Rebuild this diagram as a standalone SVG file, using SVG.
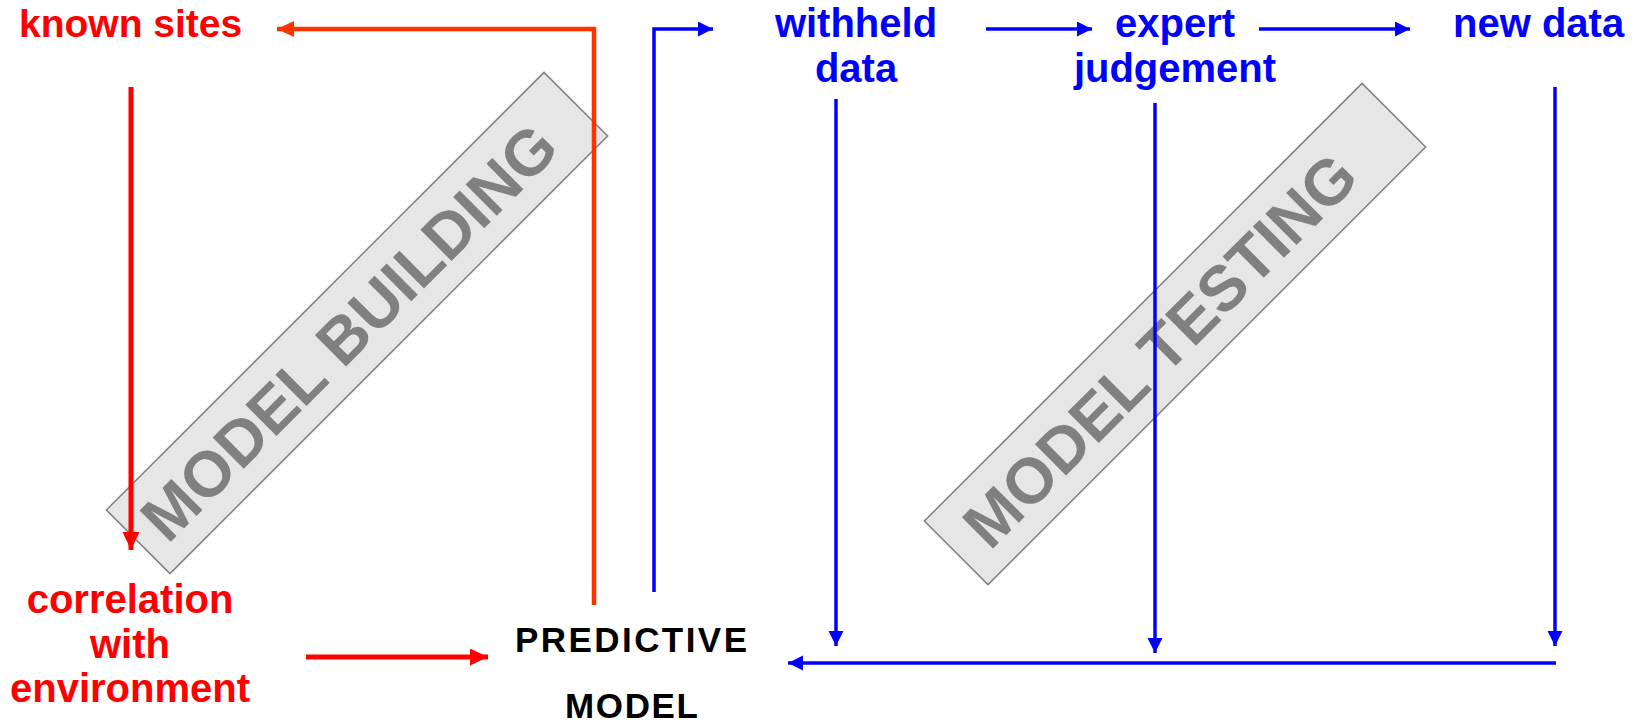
<svg xmlns="http://www.w3.org/2000/svg" width="1645" height="724" viewBox="0 0 1645 724">
<style>
.lbl{font-family:"Liberation Sans",Arial,sans-serif;font-weight:bold;font-size:40px}
.red{fill:#FF0000}
.blue{fill:#0000FF}
.blk{fill:#000000;font-size:35px}
.band rect{fill:#E6E6E6;stroke:#808080;stroke-width:1.5}
.band text{font-family:"Liberation Sans",Arial,sans-serif;font-weight:bold;font-size:64px;fill:#808080}
.cr{stroke:#FF0000;stroke-width:5;fill:none}
.co{stroke:#FF3300;stroke-width:4.5;fill:none}
.cb{stroke:#0000FF;stroke-width:3.5;fill:none}
</style>
<defs>
<marker id="ahR" markerUnits="userSpaceOnUse" markerWidth="20" markerHeight="18" refX="18" refY="8.5" orient="auto"><path d="M0,0 L18,8.5 L0,17 z" fill="#FF0000"/></marker>
<marker id="ahO" markerUnits="userSpaceOnUse" markerWidth="20" markerHeight="18" refX="17" refY="8" orient="auto"><path d="M0,0 L17,8 L0,16 z" fill="#FF3300"/></marker>
<marker id="ahB" markerUnits="userSpaceOnUse" markerWidth="18" markerHeight="16" refX="15" refY="7.5" orient="auto"><path d="M0,0 L15,7.5 L0,15 z" fill="#0000FF"/></marker>
</defs>

<g id="band-building" class="band" transform="translate(357,323) rotate(-45)">
<rect x="-309.5" y="-45" width="619" height="90"/>
<text x="-12" y="23" text-anchor="middle">MODEL BUILDING</text>
</g>
<g id="band-testing" class="band" transform="translate(1175,334) rotate(-45)">
<rect x="-309.5" y="-45" width="619" height="90"/>
<text x="-22" y="23" text-anchor="middle">MODEL TESTING</text>
</g>

<g id="known-sites"><text class="lbl red" x="19" y="37" style="font-size:39px">known sites</text></g>
<g id="correlation">
<text class="lbl red" x="130" y="613" text-anchor="middle">correlation</text>
<text class="lbl red" x="130" y="658" text-anchor="middle">with</text>
<text class="lbl red" x="130" y="702" text-anchor="middle">environment</text>
</g>
<g id="predictive-model">
<text class="lbl blk" x="515" y="652" textLength="232" lengthAdjust="spacing">PREDICTIVE</text>
<text class="lbl blk" x="565" y="718" textLength="133" lengthAdjust="spacing">MODEL</text>
</g>
<g id="withheld-data">
<text class="lbl blue" x="856" y="37" text-anchor="middle">withheld</text>
<text class="lbl blue" x="856" y="82" text-anchor="middle">data</text>
</g>
<g id="expert-judgement">
<text class="lbl blue" x="1175" y="37" text-anchor="middle">expert</text>
<text class="lbl blue" x="1175" y="82" text-anchor="middle">judgement</text>
</g>
<g id="new-data"><text class="lbl blue" x="1453" y="37">new data</text></g>

<g id="connectors">
<path class="cr" d="M131,87 V550" marker-end="url(#ahR)"/>
<path class="cr" d="M306,657 H488" marker-end="url(#ahR)"/>
<path class="co" d="M594,605 V29 H277" marker-end="url(#ahO)"/>
<path class="cb" d="M654,592 V29 H713" marker-end="url(#ahB)"/>
<path class="cb" d="M986,29 H1092" marker-end="url(#ahB)"/>
<path class="cb" d="M1259,29 H1410" marker-end="url(#ahB)"/>
<path class="cb" d="M836,99 V646" marker-end="url(#ahB)"/>
<path class="cb" d="M1155,103 V653" marker-end="url(#ahB)"/>
<path class="cb" d="M1555,87 V646" marker-end="url(#ahB)"/>
<path class="cb" d="M1556,663 H788" marker-end="url(#ahB)"/>
</g>
</svg>
